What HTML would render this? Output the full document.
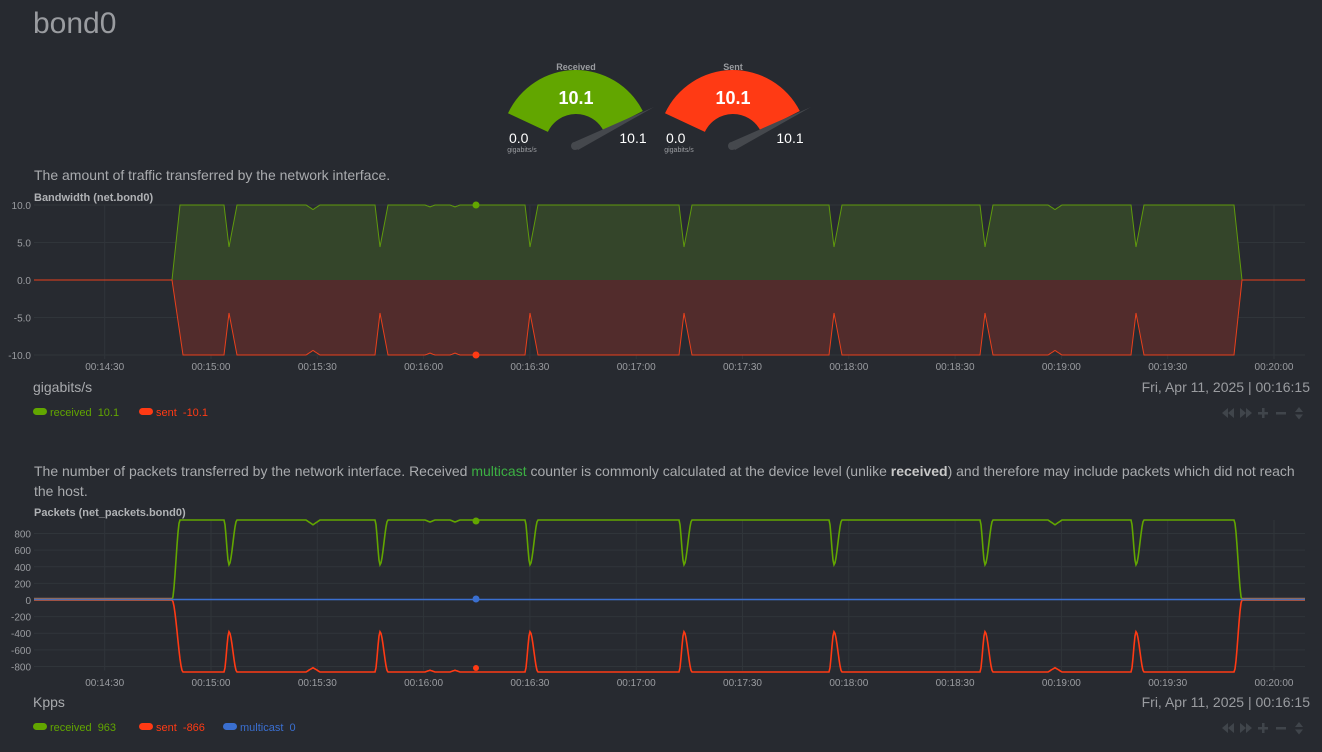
<!DOCTYPE html>
<html><head><meta charset="utf-8"><style>
body{margin:0;width:1322px;height:752px;background:#272a30;overflow:hidden;font-family:"Liberation Sans",sans-serif;}
.t{position:absolute;white-space:nowrap}
</style></head><body>
<div class="t" style="left:33px;top:7px;font-size:30px;color:#9a9ca0">bond0</div>
<div class="t" style="left:34px;top:167px;font-size:14px;color:#a9abae">The amount of traffic transferred by the network interface.</div>
<div class="t" style="left:34px;top:461px;font-size:14px;color:#a9abae;line-height:20px;width:1280px;white-space:normal">The number of packets transferred by the network interface. Received <span style="color:#3cb043">multicast</span> counter is commonly calculated at the device level (unlike <b style="color:#c8c8c8">received</b>) and therefore may include packets which did not reach the host.</div>
<svg id="s" width="1322" height="752" style="position:absolute;left:0;top:0" font-family="Liberation Sans, sans-serif"></svg>
<script>
var s=document.getElementById('s'),h='';
function T(x,y,t,sz,c,a,w){h+='<text x="'+x+'" y="'+y+'" font-size="'+sz+'" fill="'+c+'" text-anchor="'+(a||'start')+'"'+(w?' font-weight="bold"':'')+'>'+t+'</text>';}
function gauge(cx,col,lab){var cy=145,R=75,r=31,a1=155*Math.PI/180,a2=27*Math.PI/180;
function p(rr,a){return (cx+rr*Math.cos(a)).toFixed(1)+','+(cy-rr*Math.sin(a)).toFixed(1);}
h+='<path d="M'+p(R,a1)+' A'+R+','+R+' 0 0 1 '+p(R,a2)+' L'+p(r,a2)+' A'+r+','+r+' 0 0 0 '+p(r,a1)+'Z" fill="'+col+'"/>';
h+='<path d="M'+(cx-4)+','+(cy-2)+' L'+(cx+78)+','+(cy-38)+' L'+(cx+2)+','+(cy+5)+' Z" fill="#45484d"/><circle cx="'+(cx-1)+'" cy="'+(cy+1)+'" r="4" fill="#45484d"/>';
T(cx,70,lab,9,'#9a9ca0','middle',1);T(cx,104,'10.1',18,'#fff','middle',1);
T(cx-67,143,'0.0',14,'#fff');T(cx-54,152,'gigabits/s',7,'#9a9ca0','middle');T(cx+57,143,'10.1',14,'#fff','middle');}
gauge(576,'#62a600','Received');gauge(733,'#ff3a14','Sent');
var L=34,Rr=1305;
function tx(i){return 211+(i-1)*106.3;}
var times=['00:14:30','00:15:00','00:15:30','00:16:00','00:16:30','00:17:00','00:17:30','00:18:00','00:18:30','00:19:00','00:19:30','00:20:00'];
var dips=[229,380,530,684,834,985,1136];
function f(x,sm,sent){var v;
 if(x<172)v=0;else if(x<(sent?183:180))v=(x-172)/((sent?183:180)-172);else if(x<1234)v=1;else if(x<1242)v=1-(x-1234)/8;else v=0;
 if(sm&&v>0&&v<1){v=v*v*(3-2*v);}
 for(var c of dips){var d=x-c;if(d>-5&&d<8){var k=d<0?1+d/5:1-d/8;if(sm)k=k*k*(3-2*k);v-=0.56*k;}}
 for(var c of [313,1055]){var d=Math.abs(x-c);if(d<7)v-=0.06*(1-d/7);}
 for(var c of [430,455]){var d=Math.abs(x-c);if(d<5)v-=0.025*(1-d/5);}
 return v;}
function chart(top0,yz,yticks,scl,title){
 h+='<text x="34" y="'+(top0)+'" font-size="11" fill="#b0b2b5" font-weight="bold">'+title+'</text>';
 for(var t of yticks){var y=yz-t[0]*scl;h+='<line x1="'+L+'" x2="'+Rr+'" y1="'+y+'" y2="'+y+'" stroke="#30353a"/>';T(31,y+4,t[1],10,'#9a9ca0','end');}
 for(var i=0;i<times.length;i++){var x=tx(i);h+='<line x1="'+x+'" x2="'+x+'" y1="'+(top0+4)+'" y2="'+(yticks[yticks.length-1][0]*-scl+yz+4)+'" stroke="#30353a"/>';}
}
function series(yz,amp,sm,sent,col,fill,lw){var pts=[];for(var x=L;x<=Rr;x+=1){var v=f(x,sm,sent);pts.push(x+','+(yz+(sent?1:-1)*amp*v).toFixed(1));}
 if(fill)h+='<path d="M'+L+','+yz+' L'+pts.join(' L')+' L'+Rr+','+yz+'Z" fill="'+fill+'"/>';
 h+='<polyline points="'+pts.join(' ')+'" fill="none" stroke="'+col+'" stroke-width="'+lw+'"/>';}
chart(201,280,[[10,'10.0'],[5,'5.0'],[0,'0.0'],[-5,'-5.0'],[-10,'-10.0']],7.5,'Bandwidth (net.bond0)');
series(280,75,0,0,'#5f9a0c','#34452a',1);series(280,75,0,1,'#e8401c','#522c2c',1);
h+='<line x1="'+L+'" x2="172" y1="280" y2="280" stroke="#e8401c"/><line x1="1242" x2="'+Rr+'" y1="280" y2="280" stroke="#e8401c"/>';
h+='<circle cx="476" cy="205" r="3.5" fill="#62a600"/><circle cx="476" cy="355" r="3.5" fill="#ff3a14"/>';
for(var i=0;i<times.length;i++)T(tx(i),370,times[i],10,'#9a9ca0','middle');
chart(516,600,[[800,'800'],[600,'600'],[400,'400'],[200,'200'],[0,'0'],[-200,'-200'],[-400,'-400'],[-600,'-600'],[-800,'-800']],0.0831,'Packets (net_packets.bond0)');
series(600,80,1,0,'#62a600',null,1.6);series(600,72,1,1,'#ff3a14',null,1.6);
h+='<line x1="'+L+'" x2="'+Rr+'" y1="599.5" y2="599.5" stroke="#3a6fd0" stroke-width="1.6"/>';
h+='<line x1="'+L+'" x2="172" y1="598.5" y2="598.5" stroke="#8a6a60" stroke-width="1.5"/><line x1="1242" x2="'+Rr+'" y1="598.5" y2="598.5" stroke="#8a6a60" stroke-width="1.5"/>';
h+='<circle cx="476" cy="521" r="3.5" fill="#62a600"/><circle cx="476" cy="599" r="3.5" fill="#3a6fd0"/><circle cx="476" cy="668" r="3" fill="#ff3a14"/>';
for(var i=0;i<times.length;i++)T(tx(i),686,times[i],10,'#9a9ca0','middle');
function foot(y,unit,leg){T(33,y,unit,14,'#a9abae');T(1310,y,'Fri, Apr 11, 2025 | 00:16:15',14,'#9a9ca0','end');
 for(var l of leg){h+='<rect x="'+l[0]+'" y="'+(y+16)+'" width="14" height="7" rx="3.5" fill="'+l[2]+'"/>';T(l[0]+17,y+24,l[1],11,l[2]);}
 var iy=y+21;h+='<g fill="#40454b"><path d="M1222,'+iy+' l6,-5 v10z M1228,'+iy+' l6,-5 v10z M1240,'+(iy-5)+' l6,5 l-6,5z M1246,'+(iy-5)+' l6,5 l-6,5z"/><rect x="1258" y="'+(iy-1)+'" width="10" height="2.5"/><rect x="1262" y="'+(iy-5)+'" width="2.5" height="10"/><rect x="1276" y="'+(iy-1)+'" width="10" height="2.5"/><path d="M1295,'+(iy-1)+' l4,-5 l4,5z M1295,'+(iy+1.5)+' l4,5 l4,-5z"/></g>';}
foot(392,'gigabits/s',[[33,'received&#160;&#160;10.1','#62a600'],[139,'sent&#160;&#160;-10.1','#ff3a14']]);
foot(707,'Kpps',[[33,'received&#160;&#160;963','#62a600'],[139,'sent&#160;&#160;-866','#ff3a14'],[223,'multicast&#160;&#160;0','#3a6fd0']]);
s.innerHTML=h;
</script>
</body></html>
